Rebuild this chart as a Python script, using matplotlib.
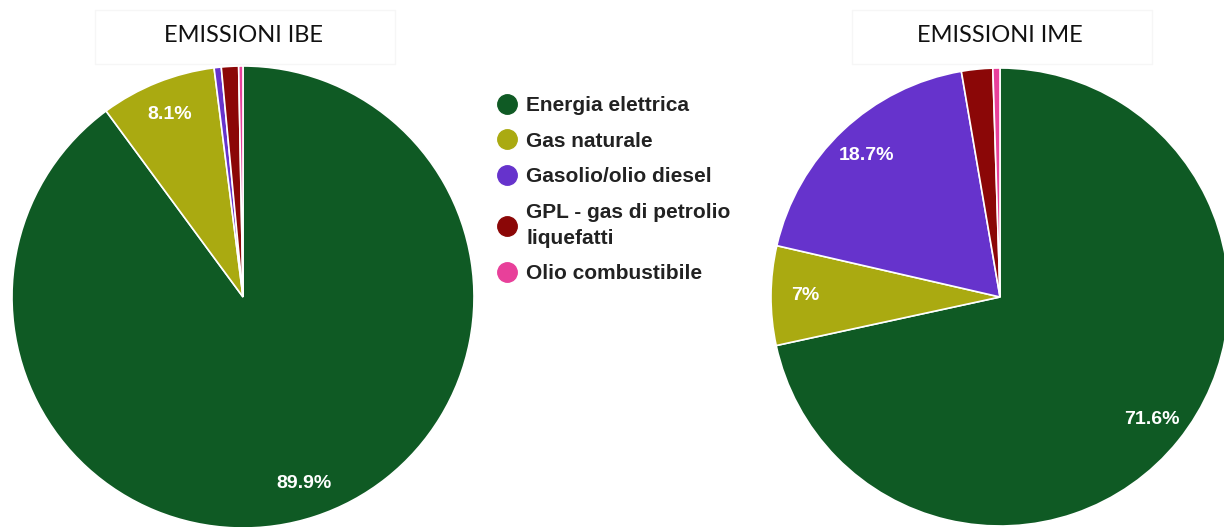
import matplotlib
matplotlib.use('Agg')
import matplotlib.pyplot as plt
from matplotlib.lines import Line2D
from matplotlib.patches import Rectangle
import numpy as np

# Dati
categorie = ['Energia elettrica', 'Gas naturale', 'Gasolio/olio diesel',
             'GPL - gas di petrolio\nliquefatti', 'Olio combustibile']
colori = ['#0f5a24', '#aaaa11', '#6633cc', '#8b0707', '#e8409a']

valori_ibe = [89.9, 8.1, 0.5, 1.2, 0.3]
etichette_ibe = ['89.9%', '8.1%', '', '', '']

valori_ime = [71.6, 7.0, 18.7, 2.2, 0.5]
etichette_ime = ['71.6%', '7%', '18.7%', '', '']

titoli = ['EMISSIONI IBE', 'EMISSIONI IME']

W, H = 1224, 527
fig = plt.figure(figsize=(W / 100, H / 100), dpi=100)


def disegna_torta(cx, cy, r, valori, etichette, titolo):
    # cx, cy, r in pixel (cy dall'alto)
    ax = fig.add_axes([(cx - r) / W, (H - cy - r) / H, 2 * r / W, 2 * r / H])
    wedges, _ = ax.pie(valori, colors=colori, startangle=90, counterclock=False,
                       radius=1, wedgeprops=dict(edgecolor='white', linewidth=1.2))
    for w, lab in zip(wedges, etichette):
        if not lab:
            continue
        ang = np.deg2rad((w.theta1 + w.theta2) / 2)
        ax.text(0.85 * np.cos(ang), 0.85 * np.sin(ang), lab, ha='center', va='center',
                color='white', fontsize=14, fontweight='bold', family='Liberation Sans')
    ax.set_xlim(-1, 1)
    ax.set_ylim(-1, 1)
    ax.set_aspect('equal')
    ax.axis('off')
    for w in wedges:
        w.set_clip_on(False)
    # riquadro titolo (molto tenue)
    fig.patches.append(Rectangle(((cx - 148) / W, (H - 64) / H), 300 / W, 54 / H,
                                 transform=fig.transFigure, facecolor='white',
                                 edgecolor='#f6f6f6', linewidth=1))
    fig.text(cx / W, 1 - 36 / H, titolo, ha='center', va='center', fontsize=17,
             family='Lato', color='#111111')


disegna_torta(243, 297, 231, valori_ibe, etichette_ibe, titoli[0])
disegna_torta(1000, 297, 229, valori_ime, etichette_ime, titoli[1])

handles = [Line2D([], [], marker='o', linestyle='none', markerfacecolor=c,
                  markeredgecolor=c, markersize=14) for c in colori]
leg = fig.legend(handles, categorie, loc='upper left', bbox_to_anchor=(497 / W, 1 - 96 / H),
                 frameon=False, borderpad=0, borderaxespad=0, handlelength=1.0,
                 handletextpad=0.4, labelspacing=0.8,
                 prop=dict(family='Liberation Sans', weight='bold', size=15))
for t in leg.get_texts():
    t.set_color('#222222')
    t.set_linespacing(1.45)

fig.savefig('out.png', dpi=100)
